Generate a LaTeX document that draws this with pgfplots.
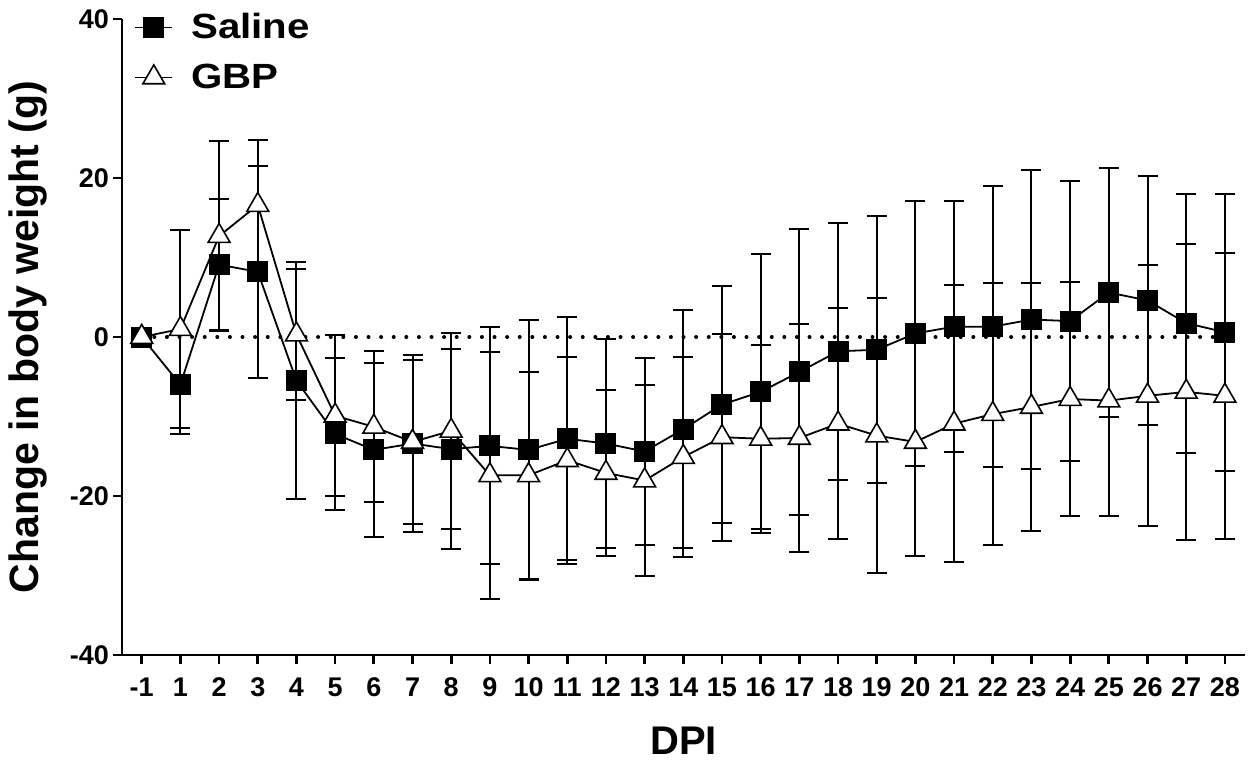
\documentclass[border=0pt]{standalone}
\usepackage{pgfplots}
\pgfplotsset{compat=1.18}
\usepackage{pgfplotstable}
\usepackage{fontspec}
\usepackage{graphicx}
\setmainfont{Liberation Sans}

\pgfplotstableread{
x y e
0 0 0
1 -6.0 6.2
2 9.1 8.2
3 8.2 13.3
4 -5.5 14.9
5 -12.2 9.5
6 -14.2 10.9
7 -13.4 11.1
8 -14.1 12.6
9 -13.7 14.9
10 -14.2 16.4
11 -12.8 15.3
12 -13.4 13.2
13 -14.4 11.8
14 -11.6 15.0
15 -8.5 14.9
16 -6.9 17.3
17 -4.4 18.0
18 -1.8 16.2
19 -1.6 16.8
20 0.45 16.7
21 1.3 15.8
22 1.3 17.7
23 2.2 18.8
24 2.0 17.6
25 5.6 15.6
26 4.6 15.7
27 1.75 16.3
28 0.6 17.4
}\saline

\pgfplotstableread{
x y e
0 0 0
1 1.0 12.4
2 12.7 12.0
3 16.6 8.2
4 0.3 8.2
5 -9.9 10.1
6 -11.3 9.5
7 -13.2 10.3
8 -11.8 12.3
9 -17.4 15.5
10 -17.4 13.0
11 -15.5 13.0
12 -17.1 10.4
13 -18.05 12.0
14 -15.1 12.6
15 -12.6 13.0
16 -12.8 11.8
17 -12.7 14.3
18 -10.9 14.5
19 -12.4 17.3
20 -13.2 14.4
21 -10.9 17.4
22 -9.7 16.5
23 -8.8 15.6
24 -7.8 14.7
25 -8.0 14.5
26 -7.4 16.4
27 -6.9 18.6
28 -7.4 18.0
}\gbp

\begin{document}
\begin{tikzpicture}
\path[use as bounding box] (-61pt,-53.5pt) rectangle (569pt,327.5pt);
\begin{axis}[
  at={(0,0)}, anchor=south west,
  scale only axis, width=561.5pt, height=318pt,
  xmin=-0.51, xmax=28.52, ymin=-40, ymax=40,
  clip=false,
  axis x line*=bottom, axis y line*=left,
  axis line style={-, line width=1.35pt, black},
  xtick={0,...,28},
  xticklabels={-1,1,2,3,4,5,6,7,8,9,10,11,12,13,14,15,16,17,18,19,20,21,22,23,24,25,26,27,28},
  ytick={-40,-20,0,20,40},
  yticklabels={-40,-20,0,20,40},
  tick align=outside,
  major tick length=4.5pt,
  tick style={line width=1.35pt, black},
  xticklabel style={font=\fontsize{13.5}{14}\selectfont\bfseries, anchor=base, yshift=-16pt},
  yticklabel style={font=\fontsize{13.5}{14}\selectfont\bfseries, xshift=1.5pt},
  xlabel={DPI},
  ylabel={Change in body weight (g)},
  xlabel style={font=\fontsize{20}{22}\selectfont\bfseries, at={(axis description cs:0.5,-0.157)}, anchor=base},
  ylabel style={font=\fontsize{20.5}{22}\selectfont\bfseries, at={(axis description cs:-0.0837,0.5)}, anchor=center, rotate=0},
  legend style={at={(axis description cs:0,1)}, anchor=north west, xshift=6pt, yshift=4pt,
    draw=none, fill=none, inner sep=0pt, row sep=9pt, column sep=8pt,
    font=\fontsize{17.5}{18}\selectfont\bfseries,
    nodes={inner sep=1pt, anchor=west}},
  legend cell align=left,
  legend image code/.code={\draw[mark repeat=2,mark phase=2] plot coordinates {(0pt,0pt)(9.25pt,0pt)(18.5pt,0pt)};},
]
\addplot[black, line width=2pt, dash pattern=on 0pt off 6.3pt, line cap=round, forget plot] coordinates {(0,0) (28.25,0)};

\addplot[draw=none, mark=none, forget plot,
  error bars/.cd, y dir=both, y explicit,
  error bar style={draw=black, solid, line width=1pt},
  error mark options={rotate=90, mark size=5pt, draw=black, line width=1pt}]
  table[x=x, y=y, y error=e]{\saline};
\addplot[black, line width=0.9pt, mark=square*, mark size=5pt, mark options={fill=black, draw=black, line width=0.5pt, solid}]
  table[x=x, y=y]{\saline};
\addlegendentry{\scalebox{1.15}[1]{Saline}}

\addplot[draw=none, mark=none, forget plot,
  error bars/.cd, y dir=both, y explicit,
  error bar style={draw=black, solid, line width=1pt},
  error mark options={rotate=90, mark size=5pt, draw=black, line width=1pt}]
  table[x=x, y=y, y error=e]{\gbp};
\addplot[black, line width=0.9pt, mark=triangle*, mark size=6.3pt, mark options={fill=white, draw=black, line width=0.8pt, solid}]
  table[x=x, y=y]{\gbp};
\addlegendentry{\scalebox{1.15}[1]{GBP}}
\end{axis}
\end{tikzpicture}
\end{document}
